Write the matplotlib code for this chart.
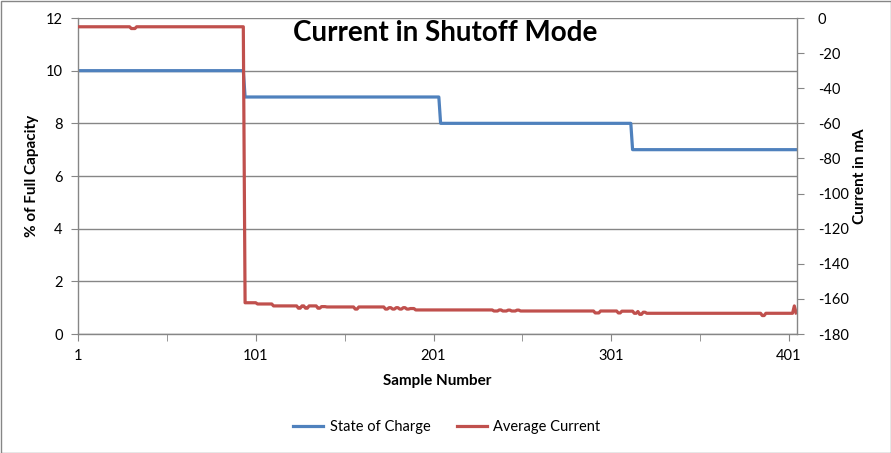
import numpy as np
import matplotlib
matplotlib.use("Agg")
import matplotlib.pyplot as plt
from matplotlib.patches import Rectangle

plt.rcParams["font.family"] = ["Lato", "DejaVu Sans"]
plt.rcParams["axes.unicode_minus"] = False

# state of charge, as steps: level and number of samples at that level
soc_levels = [10, 9, 8, 7]
soc_counts = [94, 110, 108, 93]

# average current in mA, as runs
current_levels = [
    -5, -6, -5,
    -162.2, -162.9, -164.0, -165.3, -164.0, -165.3, -164.0, -165.3, -164.4,
    -164.6, -165.8, -164.6,
    -165.8, -165.0, -165.8, -165.0, -165.8, -165.0, -165.8, -165.5,
    -166.3, -166.9, -166.3, -166.9, -166.4, -166.9, -166.4, -166.9,
    -168.0, -166.9, -168.0, -167.0, -168.2, -167.2, -168.8, -167.6,
    -168.2, -169.5, -168.2, -164.0, -168.0,
]
current_counts = [
    30, 3, 61,
    7, 9, 14, 2, 2, 2, 5, 2, 3,
    16, 2, 15,
    2, 2, 2, 2, 2, 2, 2, 3,
    44, 3, 2, 3, 2, 3, 2, 42,
    3, 10, 2, 7, 2, 1, 2, 2,
    65, 2, 16, 1, 1,
]

soc = np.repeat(soc_levels, soc_counts)
current = np.repeat(current_levels, current_counts)
samples = np.arange(1, len(soc) + 1)

blue = "#4F81BD"
red = "#C0504D"
grey = "#868686"
text_col = "#000000"

fig = plt.figure(figsize=(8.91, 4.53), dpi=100)
ax = fig.add_axes([78 / 891, 1 - 334 / 453, (797 - 78) / 891, (334 - 18) / 453])
ax2 = ax.twinx()

ax.plot(samples, soc, color=blue, lw=2.3, solid_joinstyle="round", label="State of Charge")
ax2.plot(samples, current, color=red, lw=2.3, solid_joinstyle="round", label="Average Current")

ax.set_xlim(1, 405.5)
ax.set_ylim(0, 12)
ax.set_yticks(np.arange(0, 13, 2))
ax2.set_ylim(-180, 0)
ax2.set_yticks(np.arange(-180, 1, 20))

ax.set_xticks([1, 101, 201, 301, 401])
ax.set_xticks([51, 151, 251, 351], minor=True)
ax.tick_params(axis="x", which="both", length=5, color=grey, direction="out", pad=6)
ax.tick_params(axis="x", which="major", labelsize=10.5, labelcolor=text_col)
ax.tick_params(axis="y", length=5, color=grey, labelsize=10.5, pad=6)
ax2.tick_params(axis="y", length=5, color=grey, labelsize=10.5, pad=10)

ax.grid(axis="y", color=grey, lw=1)
ax.set_axisbelow(True)

for a in (ax, ax2):
    for side in ("top", "right", "left", "bottom"):
        a.spines[side].set_visible(False)
ax.spines["left"].set_visible(True)
ax.spines["bottom"].set_visible(True)
ax2.spines["right"].set_visible(True)
for sp in (ax.spines["left"], ax.spines["bottom"], ax2.spines["right"]):
    sp.set_color(grey)
    sp.set_linewidth(1)

ax.set_xlabel("Sample Number", fontsize=11, fontweight="bold", labelpad=8)
ax.set_ylabel("% of Full Capacity", fontsize=11, fontweight="bold", labelpad=5)
ax2.set_ylabel("Current in mA", fontsize=11, fontweight="bold", labelpad=3)

fig.text(445 / 891, 1 - 33 / 453, "Current in Shutoff Mode", ha="center", va="center",
         fontsize=20, fontweight="bold")

h1, l1 = ax.get_legend_handles_labels()
h2, l2 = ax2.get_legend_handles_labels()
fig.legend(h1 + h2, l1 + l2, loc="center", bbox_to_anchor=(447 / 891, 1 - 427 / 453),
           ncol=2, frameon=False, fontsize=10.5, handlelength=2.05, handletextpad=0.45,
           columnspacing=1.8)

fig.patches.append(Rectangle((0.5 / 891, 0.5 / 453), 890 / 891, 452 / 453, transform=fig.transFigure,
                             fill=False, edgecolor=grey, lw=1))

fig.savefig("out.png", dpi=100)
